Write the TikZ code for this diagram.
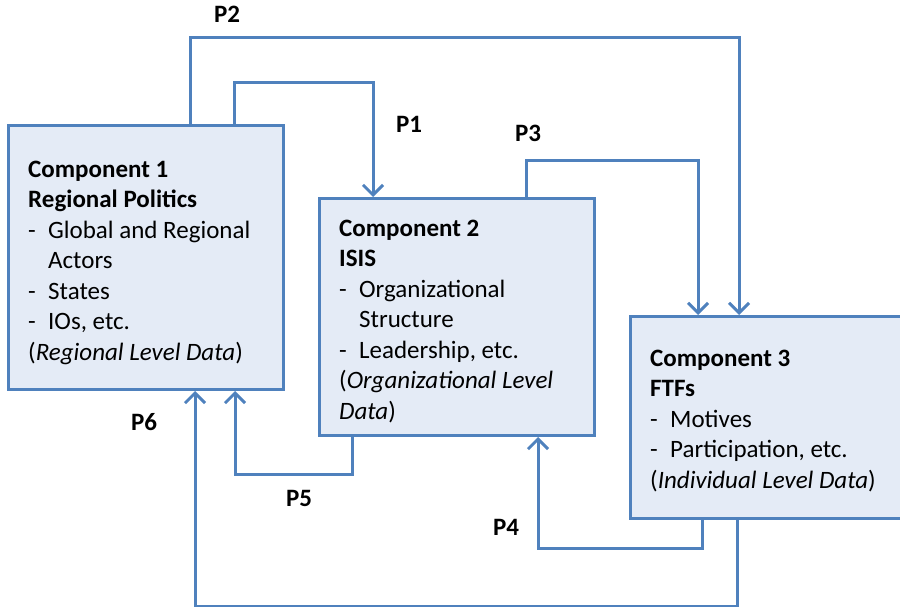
\documentclass[tikz,border=0pt]{standalone}
\usepackage{fontspec}
\setmainfont{Carlito}
\usetikzlibrary{arrows.meta}
\definecolor{linkblue}{RGB}{79,129,189}
\definecolor{boxfill}{RGB}{228,235,246}
\newcommand{\itm}{\makebox[20pt][l]{-}}
\newcommand{\ind}{\hspace*{20pt}}
\begin{document}
\begin{tikzpicture}[x=1pt,y=1pt,>={Straight Barb[length=10pt,width=20pt]},
boxstyle/.style={draw=linkblue,fill=boxfill,line width=3pt,anchor=north west,inner sep=0pt},
textstyle/.style={anchor=base west,align=left,inner sep=0pt,font=\fontsize{25}{30.5}\selectfont},
linkstyle/.style={draw=linkblue,line width=3pt,->},
plabel/.style={font=\fontsize{25}{30}\selectfont\bfseries}]

\useasboundingbox (0,0) rectangle (900,606);

\node[boxstyle,minimum width=275pt,minimum height=264pt] (c1) at (7,482) {};
\node[boxstyle,minimum width=275pt,minimum height=237pt] (c2) at (318,409) {};
\node[boxstyle,minimum width=277pt,minimum height=202pt] (c3) at (629,291) {};

% text anchored at its last line
\node[textstyle] (t1) at ([shift={(21pt,-236pt)}]c1.north west) {\textbf{Component 1}\\\textbf{Regional Politics}\\\itm Global and Regional\\\ind Actors\\\itm States\\\itm IOs, etc.\\(\textit{Regional Level Data})};
\node[textstyle] (t2) at ([shift={(21pt,-222pt)}]c2.north west) {\textbf{Component 2}\\\textbf{ISIS}\\\itm Organizational\\\ind Structure\\\itm Leadership, etc.\\(\textit{Organizational Level}\\\textit{Data})};
\node[textstyle] (t3) at ([shift={(21pt,-173pt)}]c3.north west) {\textbf{Component 3}\\\textbf{FTFs}\\\itm Motives\\\itm Participation, etc.\\(\textit{Individual Level Data})};

% paths between components
\draw[linkstyle] ([xshift=227pt]c1.north west) -- ++(0,41) -| ([xshift=55pt]c2.north west);
\draw[linkstyle] ([xshift=183pt]c1.north west) -- ++(0,86) -| ([xshift=110pt]c3.north west);
\draw[linkstyle] ([xshift=208pt]c2.north west) -- ++(0,36) -| ([xshift=69pt]c3.north west);
\draw[linkstyle] ([xshift=73pt]c3.south west) -- ++(0,-28) -| ([xshift=220pt]c2.south west);
\draw[linkstyle] ([xshift=34pt]c2.south west) -- ++(0,-37) -| ([xshift=228pt]c1.south west);
\draw[linkstyle] ([xshift=108pt]c3.south west) -- ++(0,-86) -| ([xshift=188pt]c1.south west);

\node[plabel] (p1) at (409,482) {P1};
\node[plabel] (p2) at (227,592) {P2};
\node[plabel] (p3) at (528,473) {P3};
\node[plabel] (p4) at (506,79) {P4};
\node[plabel] (p5) at (299,108) {P5};
\node[plabel] (p6) at (144,184) {P6};
\end{tikzpicture}
\end{document}
